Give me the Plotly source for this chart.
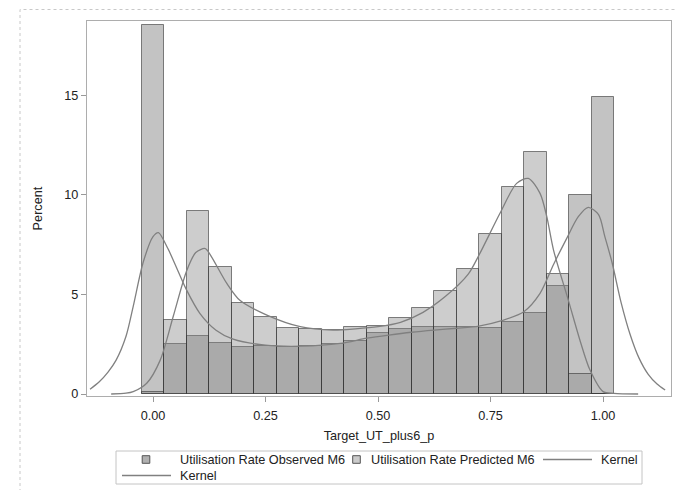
import plotly.graph_objects as go

# ---------------- data ----------------
bin_centers = [0.00, 0.05, 0.10, 0.15, 0.20, 0.25, 0.30, 0.35, 0.40, 0.45, 0.50,
               0.55, 0.60, 0.65, 0.70, 0.75, 0.80, 0.85, 0.90, 0.95, 1.00]
observed_pct = [18.5, 2.51, 2.90, 2.56, 2.37, 2.39, 2.38, 2.42, 2.50, 2.65, 3.05,
                3.26, 3.38, 3.35, 3.35, 3.30, 3.60, 4.05, 5.43, 9.97, 14.92]
predicted_pct = [0.08, 3.70, 9.17, 6.36, 4.58, 3.85, 3.33, 3.26, 3.21, 3.38, 3.41,
                 3.80, 4.30, 5.18, 6.29, 8.03, 10.37, 12.16, 6.04, 0.99, 0.0]

kernel_obs_x = [-0.14, -0.12, -0.10, -0.082, -0.06, -0.044, -0.022, 0.0, 0.012, 0.033,
                0.055, 0.075, 0.104, 0.14, 0.178, 0.25, 0.33, 0.416, 0.475, 0.524,
                0.574, 0.625, 0.675, 0.724, 0.775, 0.824, 0.86, 0.89, 0.919, 0.945,
                0.967, 0.99, 1.004, 1.02, 1.04, 1.06, 1.08, 1.10, 1.12, 1.138]
kernel_obs_y = [0.24, 0.6, 1.1, 1.7, 2.9, 4.4, 6.6, 7.9, 8.1, 7.3,
                6.2, 5.2, 4.05, 3.2, 2.75, 2.45, 2.40, 2.54, 2.80, 2.96,
                3.10, 3.21, 3.30, 3.41, 3.68, 4.13, 5.05, 6.5, 7.8, 8.9,
                9.37, 9.0, 7.9, 6.6, 4.6, 3.0, 1.8, 1.0, 0.5, 0.2]

kernel_pred_x = [-0.093, -0.06, -0.044, -0.014, 0.016, 0.045, 0.075, 0.095, 0.116, 0.127,
                 0.164, 0.193, 0.253, 0.327, 0.40, 0.45, 0.50, 0.55, 0.60, 0.65,
                 0.70, 0.725, 0.771, 0.808, 0.834, 0.86, 0.875, 0.89, 0.923, 0.95,
                 0.971, 1.0, 1.024, 1.078]
kernel_pred_y = [0.0, 0.04, 0.12, 0.54, 1.7, 3.9, 6.2, 7.1, 7.3, 7.0,
                 5.55, 4.7, 3.96, 3.38, 3.21, 3.27, 3.38, 3.6, 4.1, 4.9,
                 6.0, 7.0, 9.07, 10.57, 10.82, 10.07, 8.9, 7.22, 4.7, 2.6,
                 1.2, 0.12, 0.03, 0.0]

x_ticks = [0.0, 0.25, 0.5, 0.75, 1.0]
x_tick_labels = ["0.00", "0.25", "0.50", "0.75", "1.00"]
y_ticks = [0, 5, 10, 15]

legend_labels = ["Utilisation Rate Observed M6", "Utilisation Rate Predicted M6", "Kernel", "Kernel"]

# ---------------- styling ----------------
W, H = 676, 490
L, R, T, B = 87, 5, 21, 94
PW, PH = W - L - R, H - T - B
FONT = "Liberation Sans, Arial, sans-serif"
FS = 12.7
TXT = "#222222"

OBS_FILL = "rgba(130,130,130,0.48)"
PRED_FILL = "rgba(134,134,134,0.41)"
EDGE = "rgba(50,50,50,0.6)"
KCOL = "#808080"


def px(x):
    return (x - L) / PW


def py(y):
    return (H - B - y) / PH


fig = go.Figure()
fig.add_trace(go.Bar(x=bin_centers, y=observed_pct, width=0.05, name=legend_labels[0],
                     marker=dict(color=OBS_FILL, line=dict(color=EDGE, width=1)),
                     showlegend=False))
fig.add_trace(go.Bar(x=bin_centers, y=predicted_pct, width=0.05, name=legend_labels[1],
                     marker=dict(color=PRED_FILL, line=dict(color=EDGE, width=1)),
                     showlegend=False))
fig.add_trace(go.Scatter(x=kernel_obs_x, y=kernel_obs_y, mode="lines", name=legend_labels[2],
                         line=dict(color=KCOL, width=1.3, shape="spline", smoothing=0.8),
                         showlegend=False))
fig.add_trace(go.Scatter(x=kernel_pred_x, y=kernel_pred_y, mode="lines", name=legend_labels[3],
                         line=dict(color=KCOL, width=1.3, shape="spline", smoothing=0.8),
                         showlegend=False))

shapes = []
annotations = []

# outer dotted frame of the graph
shapes.append(dict(type="rect", xref="paper", yref="paper",
                   x0=px(20), x1=px(700), y0=py(510), y1=py(9.5),
                   line=dict(color="#c8c8c8", width=1, dash="dot"), layer="below"))

# custom legend
ROW1, ROW2 = 459.5, 475.5
shapes.append(dict(type="rect", xref="paper", yref="paper",
                   x0=px(116), x1=px(642), y0=py(484), y1=py(451),
                   line=dict(color="#c4c4c4", width=1)))
for cx, fill in [(146, "#b0b0b0"), (356.5, "#cbcbcb")]:
    shapes.append(dict(type="rect", xref="paper", yref="paper",
                       x0=px(cx - 3.8), x1=px(cx + 3.8), y0=py(ROW1 + 3.8), y1=py(ROW1 - 3.8),
                       fillcolor=fill, line=dict(color="#555555", width=1)))
for x0, x1, yy in [(543, 592, ROW1), (122, 171, ROW2)]:
    shapes.append(dict(type="line", xref="paper", yref="paper",
                       x0=px(x0), x1=px(x1), y0=py(yy), y1=py(yy),
                       line=dict(color=KCOL, width=1.3)))
for txt, x0, yy in [(legend_labels[0], 178, ROW1), (legend_labels[1], 369, ROW1),
                    (legend_labels[2], 599, ROW1), (legend_labels[3], 178, ROW2)]:
    annotations.append(dict(text=txt, xref="paper", yref="paper", x=px(x0), y=py(yy),
                            xanchor="left", yanchor="middle", showarrow=False,
                            font=dict(family=FONT, size=FS, color=TXT)))

fig.update_layout(
    width=W, height=H,
    margin=dict(l=L, r=R, t=T, b=B, pad=0),
    paper_bgcolor="white", plot_bgcolor="white",
    barmode="overlay",
    bargap=0,
    font=dict(family=FONT, size=FS, color=TXT),
    shapes=shapes, annotations=annotations,
    showlegend=False,
    xaxis=dict(range=[-0.1467, 1.151], tickvals=x_ticks, ticktext=x_tick_labels,
               showgrid=False, zeroline=False, showline=True, mirror=True,
               linecolor="#adadad", linewidth=1.3,
               ticks="outside", ticklen=5, tickwidth=1, tickcolor="#999999",
               ticklabelstandoff=3,
               tickfont=dict(family=FONT, size=FS, color=TXT),
               title=dict(text="Target_UT_plus6_p", standoff=8,
                          font=dict(family=FONT, size=FS, color=TXT))),
    yaxis=dict(range=[-0.1, 18.72], tickvals=y_ticks,
               showgrid=False, zeroline=False, showline=True, mirror=True,
               linecolor="#adadad", linewidth=1.3,
               ticks="outside", ticklen=5, tickwidth=1, tickcolor="#999999",
               tickfont=dict(family=FONT, size=FS, color=TXT),
               title=dict(text="Percent", standoff=18,
                          font=dict(family=FONT, size=FS, color=TXT))),
)

fig.write_html("out.html")
